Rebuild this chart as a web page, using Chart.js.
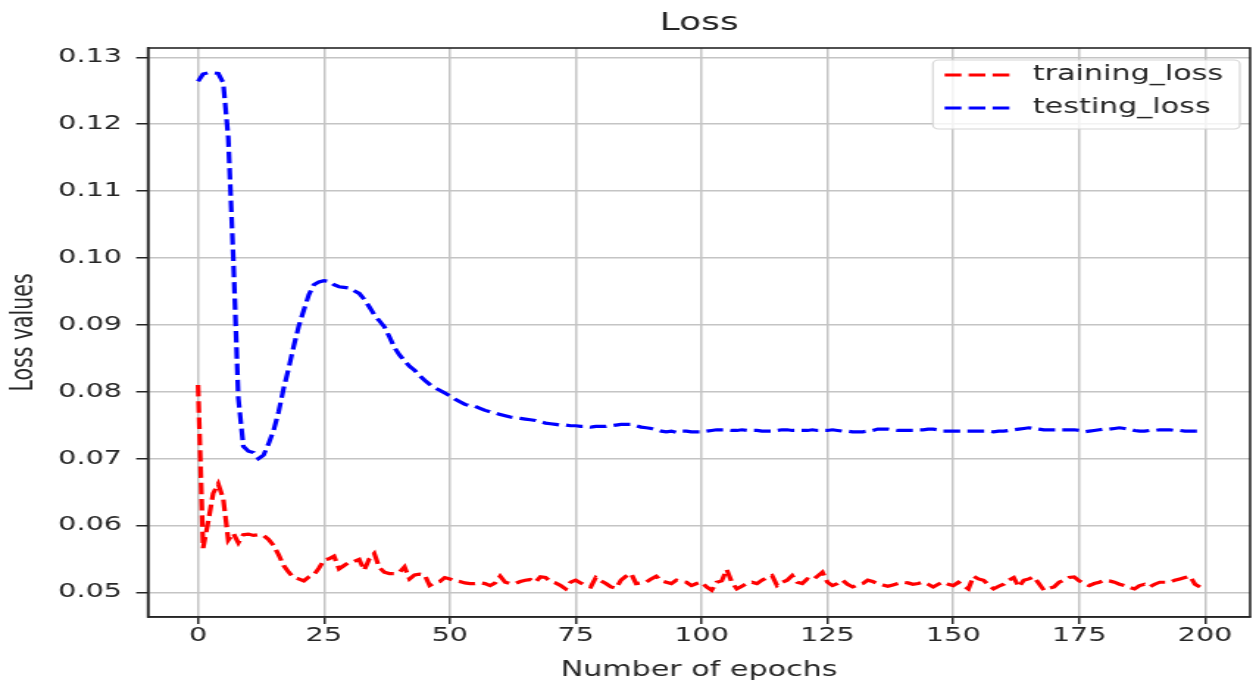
<!DOCTYPE html>
<html>
<head>
<meta charset="utf-8">
<script src="https://cdn.jsdelivr.net/npm/chart.js@4.4.1/dist/chart.umd.min.js"></script>
<style>
  html, body { margin: 0; padding: 0; background: #fff; overflow: hidden; }
  /* the reference picture is stretched sideways, so the chart is drawn narrower and scaled */
  #wrap { width: 852px; height: 681px; transform: scaleX(1.4707); transform-origin: 0 0; }
</style>
</head>
<body>
<div id="wrap"><canvas id="chart"></canvas></div>
<script>
const epochs = Array.from({ length: 200 }, (_, i) => i);

const trainingLoss = [
  0.0810, 0.0566, 0.0605, 0.0648, 0.0662, 0.0640, 0.0578, 0.0588, 0.0574, 0.0586,
  0.0587, 0.0585, 0.0586, 0.0585, 0.0579, 0.0570, 0.0556, 0.0540, 0.0530, 0.0522,
  0.0520, 0.0517, 0.0523, 0.0526, 0.0536, 0.0548, 0.0550, 0.0554, 0.0535, 0.0540,
  0.0545, 0.0546, 0.0549, 0.0533, 0.0550, 0.0558, 0.0537, 0.0530, 0.0528, 0.0528,
  0.0530, 0.0538, 0.0520, 0.0526, 0.0527, 0.0526, 0.0510, 0.0514, 0.0516, 0.0522,
  0.0520, 0.0517, 0.0516, 0.0514, 0.0513, 0.0513, 0.0514, 0.0513, 0.0510, 0.0514,
  0.0524, 0.0515, 0.0513, 0.0513, 0.0516, 0.0518, 0.0519, 0.0515, 0.0523, 0.0522,
  0.0516, 0.0514, 0.0510, 0.0505, 0.0515, 0.0518, 0.0514, 0.0510, 0.0508, 0.0522,
  0.0517, 0.0513, 0.0508, 0.0506, 0.0518, 0.0524, 0.0528, 0.0513, 0.0514, 0.0515,
  0.0520, 0.0524, 0.0517, 0.0515, 0.0513, 0.0518, 0.0516, 0.0515, 0.0510, 0.0513,
  0.0515, 0.0508, 0.0503, 0.0515, 0.0517, 0.0534, 0.0515, 0.0505, 0.0509, 0.0513,
  0.0515, 0.0513, 0.0518, 0.0522, 0.0525, 0.0510, 0.0515, 0.0518, 0.0525, 0.0515,
  0.0513, 0.0520, 0.0518, 0.0524, 0.0530, 0.0515, 0.0510, 0.0513, 0.0518, 0.0512,
  0.0508, 0.0511, 0.0513, 0.0518, 0.0516, 0.0513, 0.0511, 0.0509, 0.0511, 0.0513,
  0.0515, 0.0514, 0.0512, 0.0513, 0.0515, 0.0512, 0.0508, 0.0512, 0.0515, 0.0512,
  0.0510, 0.0515, 0.0510, 0.0505, 0.0524, 0.0520, 0.0518, 0.0511, 0.0505, 0.0509,
  0.0512, 0.0518, 0.0522, 0.0508, 0.0518, 0.0520, 0.0523, 0.0513, 0.0503, 0.0506,
  0.0508, 0.0515, 0.0518, 0.0522, 0.0523, 0.0517, 0.0513, 0.0510, 0.0513, 0.0515,
  0.0518, 0.0517, 0.0515, 0.0512, 0.0510, 0.0507, 0.0505, 0.0510, 0.0512, 0.0508,
  0.0512, 0.0515, 0.0515, 0.0515, 0.0518, 0.0520, 0.0522, 0.0524, 0.0512, 0.0508
];

const testingLoss = [
  0.1264, 0.1275, 0.1277, 0.1277, 0.1276, 0.1262, 0.1180, 0.1000, 0.0790, 0.0718,
  0.0711, 0.0709, 0.0700, 0.0705, 0.0722, 0.0742, 0.0770, 0.0805, 0.0835, 0.0868,
  0.0898, 0.0922, 0.0945, 0.0960, 0.0964, 0.0966, 0.0965, 0.0960, 0.0957, 0.0956,
  0.0955, 0.0951, 0.0947, 0.0938, 0.0927, 0.0915, 0.0906, 0.0897, 0.0882, 0.0866,
  0.0855, 0.0846, 0.0838, 0.0832, 0.0824, 0.0817, 0.0811, 0.0806, 0.0802, 0.0798,
  0.0794, 0.0789, 0.0785, 0.0781, 0.0779, 0.0778, 0.0775, 0.0772, 0.0770, 0.0768,
  0.0766, 0.0764, 0.0762, 0.0761, 0.0760, 0.0759, 0.0758, 0.0757, 0.0755, 0.0753,
  0.0752, 0.0751, 0.0750, 0.0750, 0.0749, 0.0749, 0.0748, 0.0748, 0.0747, 0.0748,
  0.0748, 0.0748, 0.0749, 0.0750, 0.0751, 0.0751, 0.0751, 0.0749, 0.0747, 0.0746,
  0.0745, 0.0743, 0.0741, 0.0740, 0.0741, 0.0739, 0.0741, 0.0741, 0.0740, 0.0740,
  0.0740, 0.0741, 0.0742, 0.0743, 0.0743, 0.0743, 0.0742, 0.0742, 0.0743, 0.0742,
  0.0742, 0.0742, 0.0741, 0.0741, 0.0741, 0.0742, 0.0743, 0.0743, 0.0742, 0.0742,
  0.0742, 0.0742, 0.0743, 0.0742, 0.0742, 0.0742, 0.0743, 0.0742, 0.0741, 0.0741,
  0.0740, 0.0740, 0.0740, 0.0741, 0.0742, 0.0744, 0.0744, 0.0744, 0.0743, 0.0742,
  0.0742, 0.0742, 0.0742, 0.0743, 0.0743, 0.0744, 0.0744, 0.0743, 0.0741, 0.0741,
  0.0741, 0.0741, 0.0741, 0.0741, 0.0741, 0.0741, 0.0741, 0.0741, 0.0740, 0.0741,
  0.0741, 0.0742, 0.0743, 0.0744, 0.0745, 0.0746, 0.0745, 0.0744, 0.0743, 0.0743,
  0.0743, 0.0743, 0.0743, 0.0743, 0.0743, 0.0742, 0.0740, 0.0741, 0.0742, 0.0743,
  0.0744, 0.0744, 0.0745, 0.0746, 0.0745, 0.0744, 0.0742, 0.0741, 0.0741, 0.0742,
  0.0742, 0.0743, 0.0743, 0.0743, 0.0742, 0.0742, 0.0741, 0.0741, 0.0741, 0.0741
];

const xTicks = [0, 25, 50, 75, 100, 125, 150, 175, 200];
const yTicks = [0.05, 0.06, 0.07, 0.08, 0.09, 0.10, 0.11, 0.12, 0.13];

const FONT = 'DejaVu Sans';
const INK = '#262626';
const DASH = [11.4, 4.9];

function points(values) {
  return epochs.map((e, i) => ({ x: e, y: values[i] }));
}

// matplotlib-like frame round the plot area
const framePlugin = {
  id: 'frame',
  afterDatasetsDraw(chart) {
    const { ctx, chartArea: a } = chart;
    ctx.save();
    ctx.strokeStyle = INK;
    ctx.lineWidth = 1.6;
    ctx.strokeRect(a.left, a.top, a.right - a.left, a.bottom - a.top);
    ctx.restore();
  }
};

// boxed legend in the upper right corner of the plot area
const boxLegend = {
  id: 'boxLegend',
  afterDraw(chart) {
    const { ctx, chartArea: a } = chart;
    const w = 208.7, h = 69;
    const x = a.right - 7 - w, y = a.top + 12;
    ctx.save();
    ctx.beginPath();
    ctx.roundRect(x, y, w, h, 4);
    ctx.fillStyle = 'rgba(255,255,255,0.8)';
    ctx.fill();
    ctx.strokeStyle = '#d6d6d6';
    ctx.lineWidth = 1.2;
    ctx.stroke();
    chart.data.datasets.forEach((ds, i) => {
      const cy = y + 15 + i * 33;
      ctx.beginPath();
      ctx.setLineDash(DASH);
      ctx.strokeStyle = ds.borderColor;
      ctx.lineWidth = 3.2;
      ctx.moveTo(x + 8, cy);
      ctx.lineTo(x + 52, cy);
      ctx.stroke();
      ctx.setLineDash([]);
      ctx.fillStyle = INK;
      ctx.font = `20.5px "${FONT}"`;
      ctx.textBaseline = 'middle';
      ctx.fillText(ds.label, x + 68, cy);
    });
    ctx.restore();
  }
};

new Chart(document.getElementById('chart'), {
  type: 'line',
  data: {
    datasets: [
      { label: 'training_loss', data: points(trainingLoss), borderColor: '#ff0000', borderDash: DASH },
      { label: 'testing_loss', data: points(testingLoss), borderColor: '#0000ff', borderDash: DASH }
    ]
  },
  options: {
    responsive: true,
    maintainAspectRatio: false,
    animation: false,
    layout: { padding: { left: 0, right: 2, top: 0, bottom: 0 } },
    elements: {
      point: { radius: 0 },
      line: { borderWidth: 3.2, tension: 0, borderCapStyle: 'butt', fill: false }
    },
    plugins: {
      legend: { display: false },
      tooltip: { enabled: false },
      title: {
        display: true,
        text: 'Loss',
        fullSize: false,
        color: INK,
        font: { family: FONT, size: 24.5, weight: 'normal' },
        padding: { top: 9.3, bottom: 9.3 }
      }
    },
    scales: {
      x: {
        type: 'linear',
        min: -9.95,
        max: 208.95,
        afterBuildTicks: s => { s.ticks = xTicks.map(v => ({ value: v })); },
        afterFit: s => { s.height = 64; },
        ticks: {
          color: INK, autoSkip: false, maxRotation: 0, padding: 0,
          font: { family: FONT, size: 19.5 },
          callback: v => String(v)
        },
        grid: { color: '#c4c4c4', lineWidth: 1.5, tickColor: INK, tickLength: 7 },
        border: { display: true, color: INK, width: 1.6 },
        title: {
          display: true, text: 'Number of epochs', color: INK, padding: 0,
          font: { family: FONT, size: 20.5, lineHeight: 1.0 }
        }
      },
      y: {
        type: 'linear',
        min: 0.0463,
        max: 0.1314,
        afterBuildTicks: s => { s.ticks = yTicks.map(v => ({ value: v })); },
        afterFit: s => { s.width = 100.6; },
        ticks: {
          color: INK, padding: 9.6,
          font: { family: FONT, size: 19.5 },
          callback: v => v.toFixed(2)
        },
        grid: { color: '#c4c4c4', lineWidth: 1.5, tickColor: INK, tickLength: 8 },
        border: { display: true, color: INK, width: 1.6 },
        title: {
          display: true, text: 'Loss values', color: INK, padding: { top: 4, bottom: 0 },
          font: { family: FONT, size: 20.5 }
        }
      }
    }
  },
  plugins: [framePlugin, boxLegend]
});
</script>
</body>
</html>
